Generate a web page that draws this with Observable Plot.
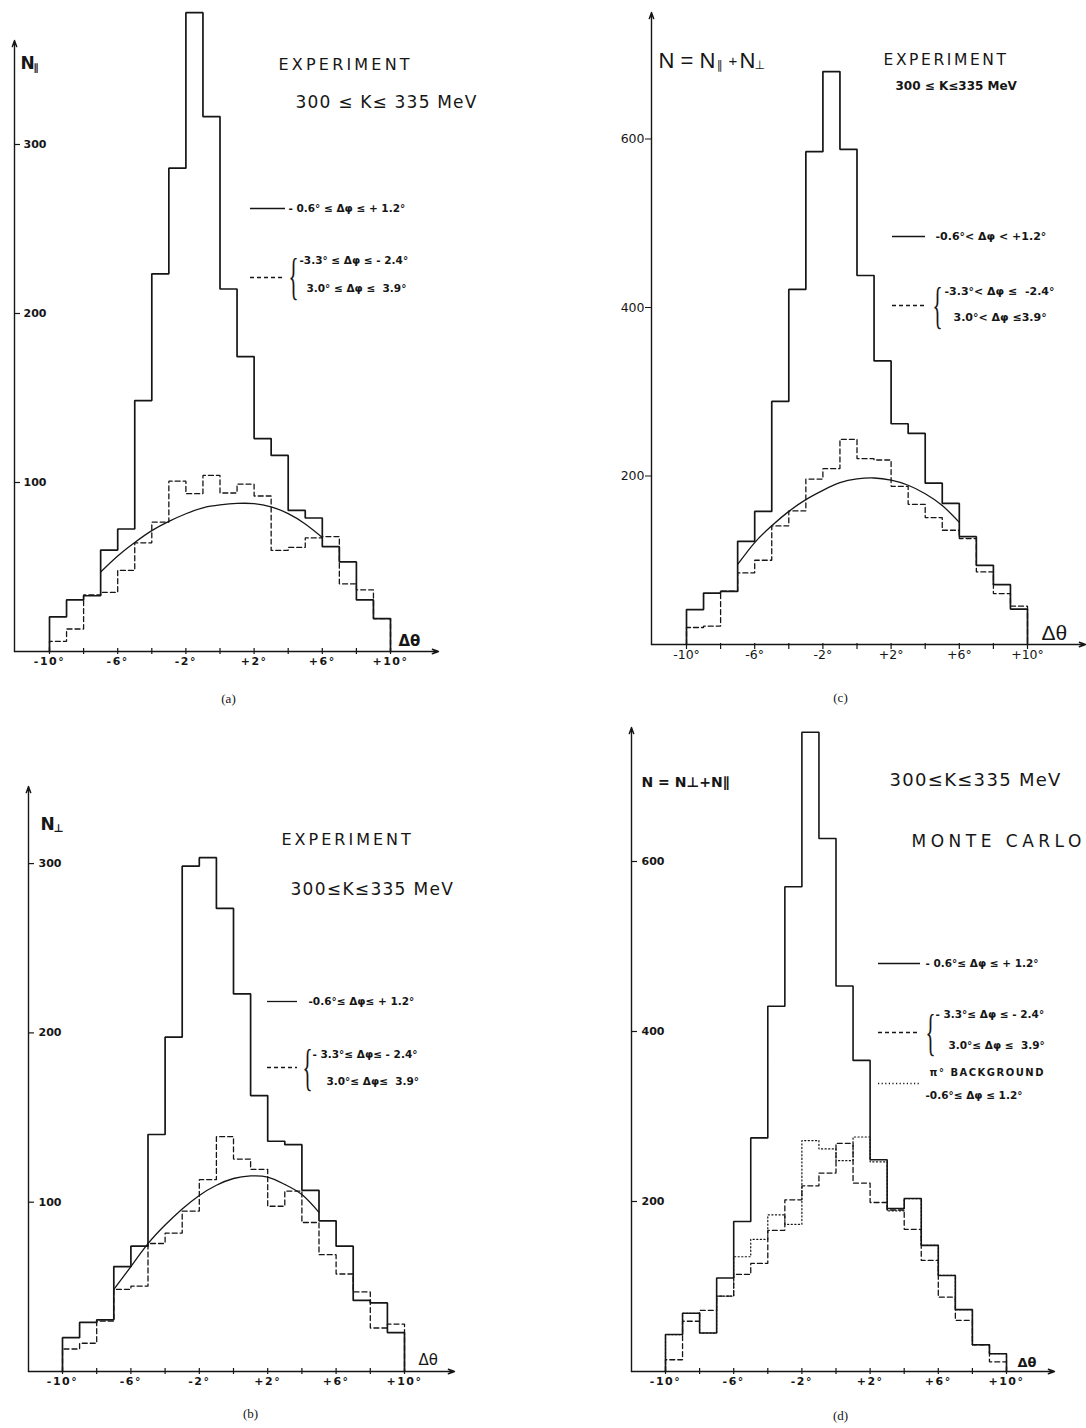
<!DOCTYPE html>
<html><head><meta charset="utf-8">
<script src="https://cdn.jsdelivr.net/npm/d3@7"></script>
<script src="https://cdn.jsdelivr.net/npm/@observablehq/plot@0.6"></script>
<style>
html,body{margin:0;padding:0;background:#fff;}
#page{position:relative;width:1086px;height:1428px;overflow:hidden;background:#fff;}
#page > div{position:absolute;}
</style></head><body><div id="page"></div>
<script>
// ---------------- data ----------------
const binEdges = [-10,-9,-8,-7,-6,-5,-4,-3,-2,-1,0,1,2,3,4,5,6,7,8,9,10];
const xTickValues = [-10,-8,-6,-4,-2,0,2,4,6,8,10];
const xLabelValues = [-10,-6,-2,2,6,10];
const xTickLabels = ["-10°","-6°","-2°","+2°","+6°","+10°"];
const yTicksPar = [100,200,300];
const yTicksPerp = [100,200,300];
const yTicksSumExp = [200,400,600];
const yTicksSumMC = [200,400,600];

// (a) N parallel, experiment
const aSolid  = [20.5,30.5,33,60,72.5,148.5,223.5,286,378,316.5,214.5,174.5,126,116,83.5,79,62,53,30.5,19.5];
const aDashed = [6,13.3,33.5,35,48,64.3,76.5,100.8,93.4,104.2,93.8,99,92,59.8,61.6,67.2,68,40,36.5,19.5];
const aFitX = [-7,-6,-5,-4,-3,-2,-1,0,1,2,3,4,5,6];
const aFitY = [47,56.5,64.5,71.5,77,81.5,85,86.7,87.6,87.5,85.6,81.6,75.5,67.5];

// (b) N perpendicular, experiment
const bSolid  = [20,29,30.5,62,74,140,197.5,298.5,303.5,273.5,223,163,136,134,107,89,74,42,40.5,23];
const bDashed = [13.3,16.7,29.7,48.5,50.4,75.6,81.7,94.7,113.3,138.7,125.5,119.4,97.6,106.6,88,69,57.6,47,25.7,28];
const bFitX = [-7,-6,-5,-4,-3,-2,-1,0,1,2,3,4,5];
const bFitY = [48.5,62,75.5,86.5,96,104,110,114,115.5,114.8,110.5,104.5,94];

// (c) N = N∥ + N⊥, experiment
const cSolid  = [41.5,61,63,122.5,158,288.5,421.5,585,680,587.7,438,336.6,262,250.5,191.5,167.5,128,94,71,42];
const cDashed = [20.2,21.7,63.2,85,100,140.7,158.5,196.4,208.7,243.5,220.6,219,187.7,166.4,150.6,135.6,125.7,86.2,60.5,45.5];
const cFitX = [-7,-6,-5,-4,-3,-2,-1,0,1,2,3,4,5,6];
const cFitY = [95,121,141,158,172,183,192,196.5,197.6,195,189,179,165,145];

// (d) N = N⊥ + N∥, Monte Carlo
const dSolid  = [43.5,68.5,45.3,110,176.4,274.8,429.7,570.3,752,627,453.6,366,249.2,191.7,203.5,148.4,113,72.8,31.5,20.9];
const dDashed = [13.8,59.1,72,88.6,114.2,127.2,166.1,202,218.5,233.5,268.5,221.7,198.8,190,167.3,130.7,87.4,60.2,31.5,11.4];
const dDotted = [43.5,68.5,45.3,88.6,135,155.5,184.3,173.2,271.7,261.8,248,275.9,246.7,189,203.5,148.4,113,72.8,31.5,20.9];

// ---------------- layout / style ----------------
const INK = "#161616";
const SANS = "DejaVu Sans";
const SERIF = "Liberation Serif";
const LSANS = "Liberation Sans";

function stepPoints(vals){
  const last = binEdges.length - 1;
  const pts = [{x: binEdges[0], y: 0}];
  vals.forEach((v, i) => pts.push({x: binEdges[i], y: v}));
  pts.push({x: binEdges[last], y: vals[vals.length - 1]});
  pts.push({x: binEdges[last], y: 0});
  return pts;
}

const panels = [
  { // (a)
    g: {left:0, top:0, W:540, H:714, xm:49, xp:390, y0:651, ky:1.69, axisPx:14, xEnd:438, yTopPx:40,
        yTicks: yTicksPar, ySide:"right", yLabelGap:9, yFont:11, yWeight:"bold",
        xTickSize:6, xTickDy:-3, xPad:6, xFont:11, xWeight:"bold", xSp:1.5},
    series: [{v:aSolid, w:1.7}, {v:aDashed, w:1.3, dash:"5,3"}],
    fit: {x:aFitX, y:aFitY},
    keys: [{x1:250, x2:285, y:208}, {x1:250, x2:285, y:277, dash:"4,3"}],
    notes: [
      {t:"N", x:20, y:63, size:17, weight:"bold"},
      {t:"∥", x:33, y:67, size:10, weight:"bold"},
      {t:"EXPERIMENT", x:278, y:64, size:16, sp:3.2},
      {t:"300 ≤ K≤ 335 MeV", x:295, y:102, size:17, sp:1.2},
      {t:"- 0.6° ≤ Δφ ≤ + 1.2°", x:288, y:208, size:10.5, weight:"bold"},
      {t:"{", x:288, y:276, size:50, family:SERIF, sx:0.42},
      {t:"-3.3° ≤ Δφ ≤ - 2.4°", x:299, y:260, size:10.5, weight:"bold"},
      {t:"3.0° ≤ Δφ ≤  3.9°", x:306, y:288, size:10.5, weight:"bold"},
      {t:"Δθ", x:398, y:641, size:15, weight:"bold"},
      {t:"(a)", x:228, y:698, size:13, family:SERIF, anchor:"middle"}
    ]
  },
  { // (b)
    g: {left:0, top:714, W:540, H:714, xm:62, xp:404, y0:1371, ky:1.693, axisPx:28, xEnd:454, yTopPx:786,
        yTicks: yTicksPerp, ySide:"right", yLabelGap:10, yFont:11, yWeight:"bold",
        xTickSize:6, xTickDy:-3, xPad:6, xFont:11, xWeight:"bold", xSp:1.5},
    series: [{v:bSolid, w:1.7}, {v:bDashed, w:1.3, dash:"5,3"}],
    fit: {x:bFitX, y:bFitY},
    keys: [{x1:267, x2:297, y:1001}, {x1:267, x2:297, y:1067, dash:"4,3"}],
    notes: [
      {t:"N", x:40, y:824, size:17, weight:"bold"},
      {t:"⊥", x:53, y:828, size:11, weight:"bold"},
      {t:"EXPERIMENT", x:281, y:839, size:16, sp:3},
      {t:"300≤K≤335 MeV", x:290, y:889, size:17, sp:1.3},
      {t:"-0.6°≤ Δφ≤ + 1.2°", x:308, y:1001, size:10.5, weight:"bold"},
      {t:"{", x:302, y:1067, size:50, family:SERIF, sx:0.42},
      {t:"- 3.3°≤ Δφ≤ - 2.4°", x:312, y:1054, size:10.5, weight:"bold"},
      {t:"3.0°≤ Δφ≤  3.9°", x:326, y:1081, size:10.5, weight:"bold"},
      {t:"Δθ", x:418, y:1360, size:15},
      {t:"(b)", x:250, y:1413, size:13, family:SERIF, anchor:"middle"}
    ]
  },
  { // (c)
    g: {left:540, top:0, W:546, H:714, xm:686, xp:1027, y0:644, ky:0.8425, axisPx:651, xEnd:1085, yTopPx:12,
        yTicks: yTicksSumExp, ySide:"left", yFont:12.5, yWeight:"normal",
        xTickSize:6, xTickDy:-1, xPad:6, xFont:12.5, xWeight:"normal", xSp:0},
    series: [{v:cSolid, w:1.7}, {v:cDashed, w:1.3, dash:"5,3"}],
    fit: {x:cFitX, y:cFitY},
    keys: [{x1:892, x2:925, y:236}, {x1:892, x2:925, y:305, dash:"4,3"}],
    notes: [
      {t:"N = N", x:658, y:60, size:22, family:LSANS},
      {t:"∥", x:716, y:65, size:12, family:SANS},
      {t:"+", x:728, y:61, size:15, family:LSANS},
      {t:"N", x:739, y:60, size:22, family:LSANS},
      {t:"⊥", x:754, y:65, size:12, family:SANS},
      {t:"EXPERIMENT", x:883, y:60, size:15.5, sp:2.6},
      {t:"300 ≤ K≤335 MeV", x:895, y:86, size:12, weight:"bold"},
      {t:"-0.6°< Δφ < +1.2°", x:935, y:236, size:11, weight:"bold"},
      {t:"{", x:932, y:305, size:50, family:SERIF, sx:0.42},
      {t:"-3.3°< Δφ ≤  -2.4°", x:944, y:291, size:11, weight:"bold"},
      {t:"3.0°< Δφ ≤3.9°", x:953, y:317, size:11, weight:"bold"},
      {t:"Δθ", x:1041, y:633, size:21, family:LSANS},
      {t:"(c)", x:840, y:697, size:13, family:SERIF, anchor:"middle"}
    ]
  },
  { // (d)
    g: {left:540, top:714, W:546, H:714, xm:665, xp:1006, y0:1371, ky:0.85, axisPx:631, xEnd:1054, yTopPx:727,
        yTicks: yTicksSumMC, ySide:"right", yLabelGap:10, yFont:11, yWeight:"bold",
        xTickSize:6, xTickDy:-3, xPad:6, xFont:11, xWeight:"bold", xSp:1.5},
    series: [{v:dSolid, w:1.6}, {v:dDashed, w:1.3, dash:"5,3"}, {v:dDotted, w:1.2, dash:"1.2,2.4"}],
    fit: null,
    keys: [{x1:878, x2:920, y:963}, {x1:878, x2:920, y:1032, dash:"4,3"}, {x1:878, x2:920, y:1083, dash:"1.2,2.4"}],
    notes: [
      {t:"N = N⊥+N∥", x:641, y:782, size:14, weight:"bold"},
      {t:"300≤K≤335 MeV", x:889, y:780, size:18, sp:1.3},
      {t:"MONTE CARLO", x:911, y:841, size:17, sp:4.5},
      {t:"- 0.6°≤ Δφ ≤ + 1.2°", x:925, y:963, size:10.5, weight:"bold"},
      {t:"{", x:925, y:1032, size:50, family:SERIF, sx:0.42},
      {t:"- 3.3°≤ Δφ ≤ - 2.4°", x:935, y:1014, size:10.5, weight:"bold"},
      {t:"3.0°≤ Δφ ≤  3.9°", x:948, y:1045, size:10.5, weight:"bold"},
      {t:"π° BACKGROUND", x:929, y:1072, size:10, weight:"bold", sp:1.5},
      {t:"-0.6°≤ Δφ ≤ 1.2°", x:925, y:1095, size:10.5, weight:"bold"},
      {t:"Δθ", x:1017, y:1362, size:13, weight:"bold"},
      {t:"(d)", x:840, y:1415, size:13, family:SERIF, anchor:"middle"}
    ]
  }
];

function build(p){
  const g = p.g;
  const kx = (g.xp - g.xm) / 20;
  const X = px => -10 + (px - g.xm) / kx;
  const Y = py => (g.y0 - py) / g.ky;
  const yMax = g.yTicks[g.yTicks.length - 1];
  const ax = X(g.axisPx);
  const marks = [];

  // axis lines with arrows
  marks.push(Plot.arrow([0], {x1: ax, y1: 0, x2: X(g.xEnd), y2: 0, stroke: INK, strokeWidth: 1.4, headLength: 7, headAngle: 40}));
  marks.push(Plot.arrow([0], {x1: ax, y1: 0, x2: ax, y2: Y(g.yTopPx), stroke: INK, strokeWidth: 1.4, headLength: 7, headAngle: 40}));

  // x ticks and labels
  marks.push(Plot.axisX(xTickValues, {anchor: "bottom", tickSize: g.xTickSize, dy: g.xTickDy, fill: "none", stroke: INK, strokeWidth: 1.2, label: null}));
  marks.push(Plot.axisX(xLabelValues, {anchor: "bottom", tickSize: 0, tickPadding: g.xPad, stroke: "none", fill: INK, label: null,
    tickFormat: d => xTickLabels[xLabelValues.indexOf(d)], fontSize: g.xFont, fontWeight: g.xWeight, fontFamily: SANS}));

  // y ticks and labels
  if (g.ySide === "right") {
    marks.push(Plot.axisY(g.yTicks, {anchor: "left", tickSize: 6, dx: g.axisPx + 6 - g.xm, fill: "none", stroke: INK, strokeWidth: 1.2, label: null}));
    marks.push(Plot.axisY(g.yTicks, {anchor: "left", tickSize: 0, tickPadding: 0, dx: g.axisPx + g.yLabelGap - g.xm, textAnchor: "start",
      stroke: "none", fill: INK, label: null, fontSize: g.yFont, fontWeight: g.yWeight, fontFamily: SANS}));
  } else {
    marks.push(Plot.axisY(g.yTicks, {anchor: "left", tickSize: 6, tickPadding: 1, dx: g.axisPx - g.xm, stroke: INK, fill: INK, label: null,
      fontSize: g.yFont, fontWeight: g.yWeight, fontFamily: SANS}));
  }

  // histograms
  p.series.forEach(s => marks.push(Plot.line(stepPoints(s.v), {x: "x", y: "y", curve: "step-after", stroke: INK,
    strokeWidth: s.w, strokeDasharray: s.dash || undefined, strokeLinejoin: "miter"})));

  // fitted curve
  if (p.fit) marks.push(Plot.line(p.fit.x.map((x, i) => ({x, y: p.fit.y[i]})), {x: "x", y: "y", curve: "natural", stroke: INK, strokeWidth: 1.3}));

  // legend keys
  p.keys.forEach(k => marks.push(Plot.ruleY([Y(k.y)], {x1: X(k.x1), x2: X(k.x2), stroke: INK, strokeWidth: 1.3, strokeDasharray: k.dash || undefined})));

  // texts
  p.notes.forEach(n => marks.push(Plot.text([n.t], {x: X(n.x), y: Y(n.y), text: d => d, textAnchor: n.anchor || "start", lineAnchor: "middle",
    fontSize: n.size, fontWeight: n.weight || "normal", fontFamily: n.family || SANS, fill: INK})));

  const svg = Plot.plot({
    width: g.W, height: g.H,
    marginLeft: g.xm - g.left, marginRight: g.left + g.W - g.xp,
    marginTop: (g.y0 - yMax * g.ky) - g.top, marginBottom: g.top + g.H - g.y0,
    x: {domain: [-10, 10]}, y: {domain: [0, yMax]},
    style: {background: "transparent", color: INK, fontFamily: SANS, overflow: "visible"},
    marks
  });

  svg.querySelectorAll("text").forEach(t => {
    const n = p.notes.find(n => (n.sp || n.sx) && n.t === t.textContent);
    if (!n) return;
    if (n.sp) t.style.letterSpacing = n.sp + "px";
    if (n.sx) {
      const tr = t.getAttribute("transform");
      if (tr) t.setAttribute("transform", tr + ` scale(${n.sx},1)`);
      else {
        const x = +t.getAttribute("x") || 0, y = +t.getAttribute("y") || 0;
        t.removeAttribute("x"); t.removeAttribute("y");
        t.setAttribute("transform", `translate(${x},${y}) scale(${n.sx},1)`);
      }
    }
  });
  if (g.xSp) svg.querySelectorAll('[aria-label="x-axis tick label"] text').forEach(t => t.style.letterSpacing = g.xSp + "px");

  const wrap = document.createElement("div");
  wrap.style.left = g.left + "px";
  wrap.style.top = g.top + "px";
  wrap.style.width = g.W + "px";
  wrap.style.height = g.H + "px";
  wrap.appendChild(svg);
  document.getElementById("page").appendChild(wrap);
}

panels.forEach(build);
</script>
</body></html>
